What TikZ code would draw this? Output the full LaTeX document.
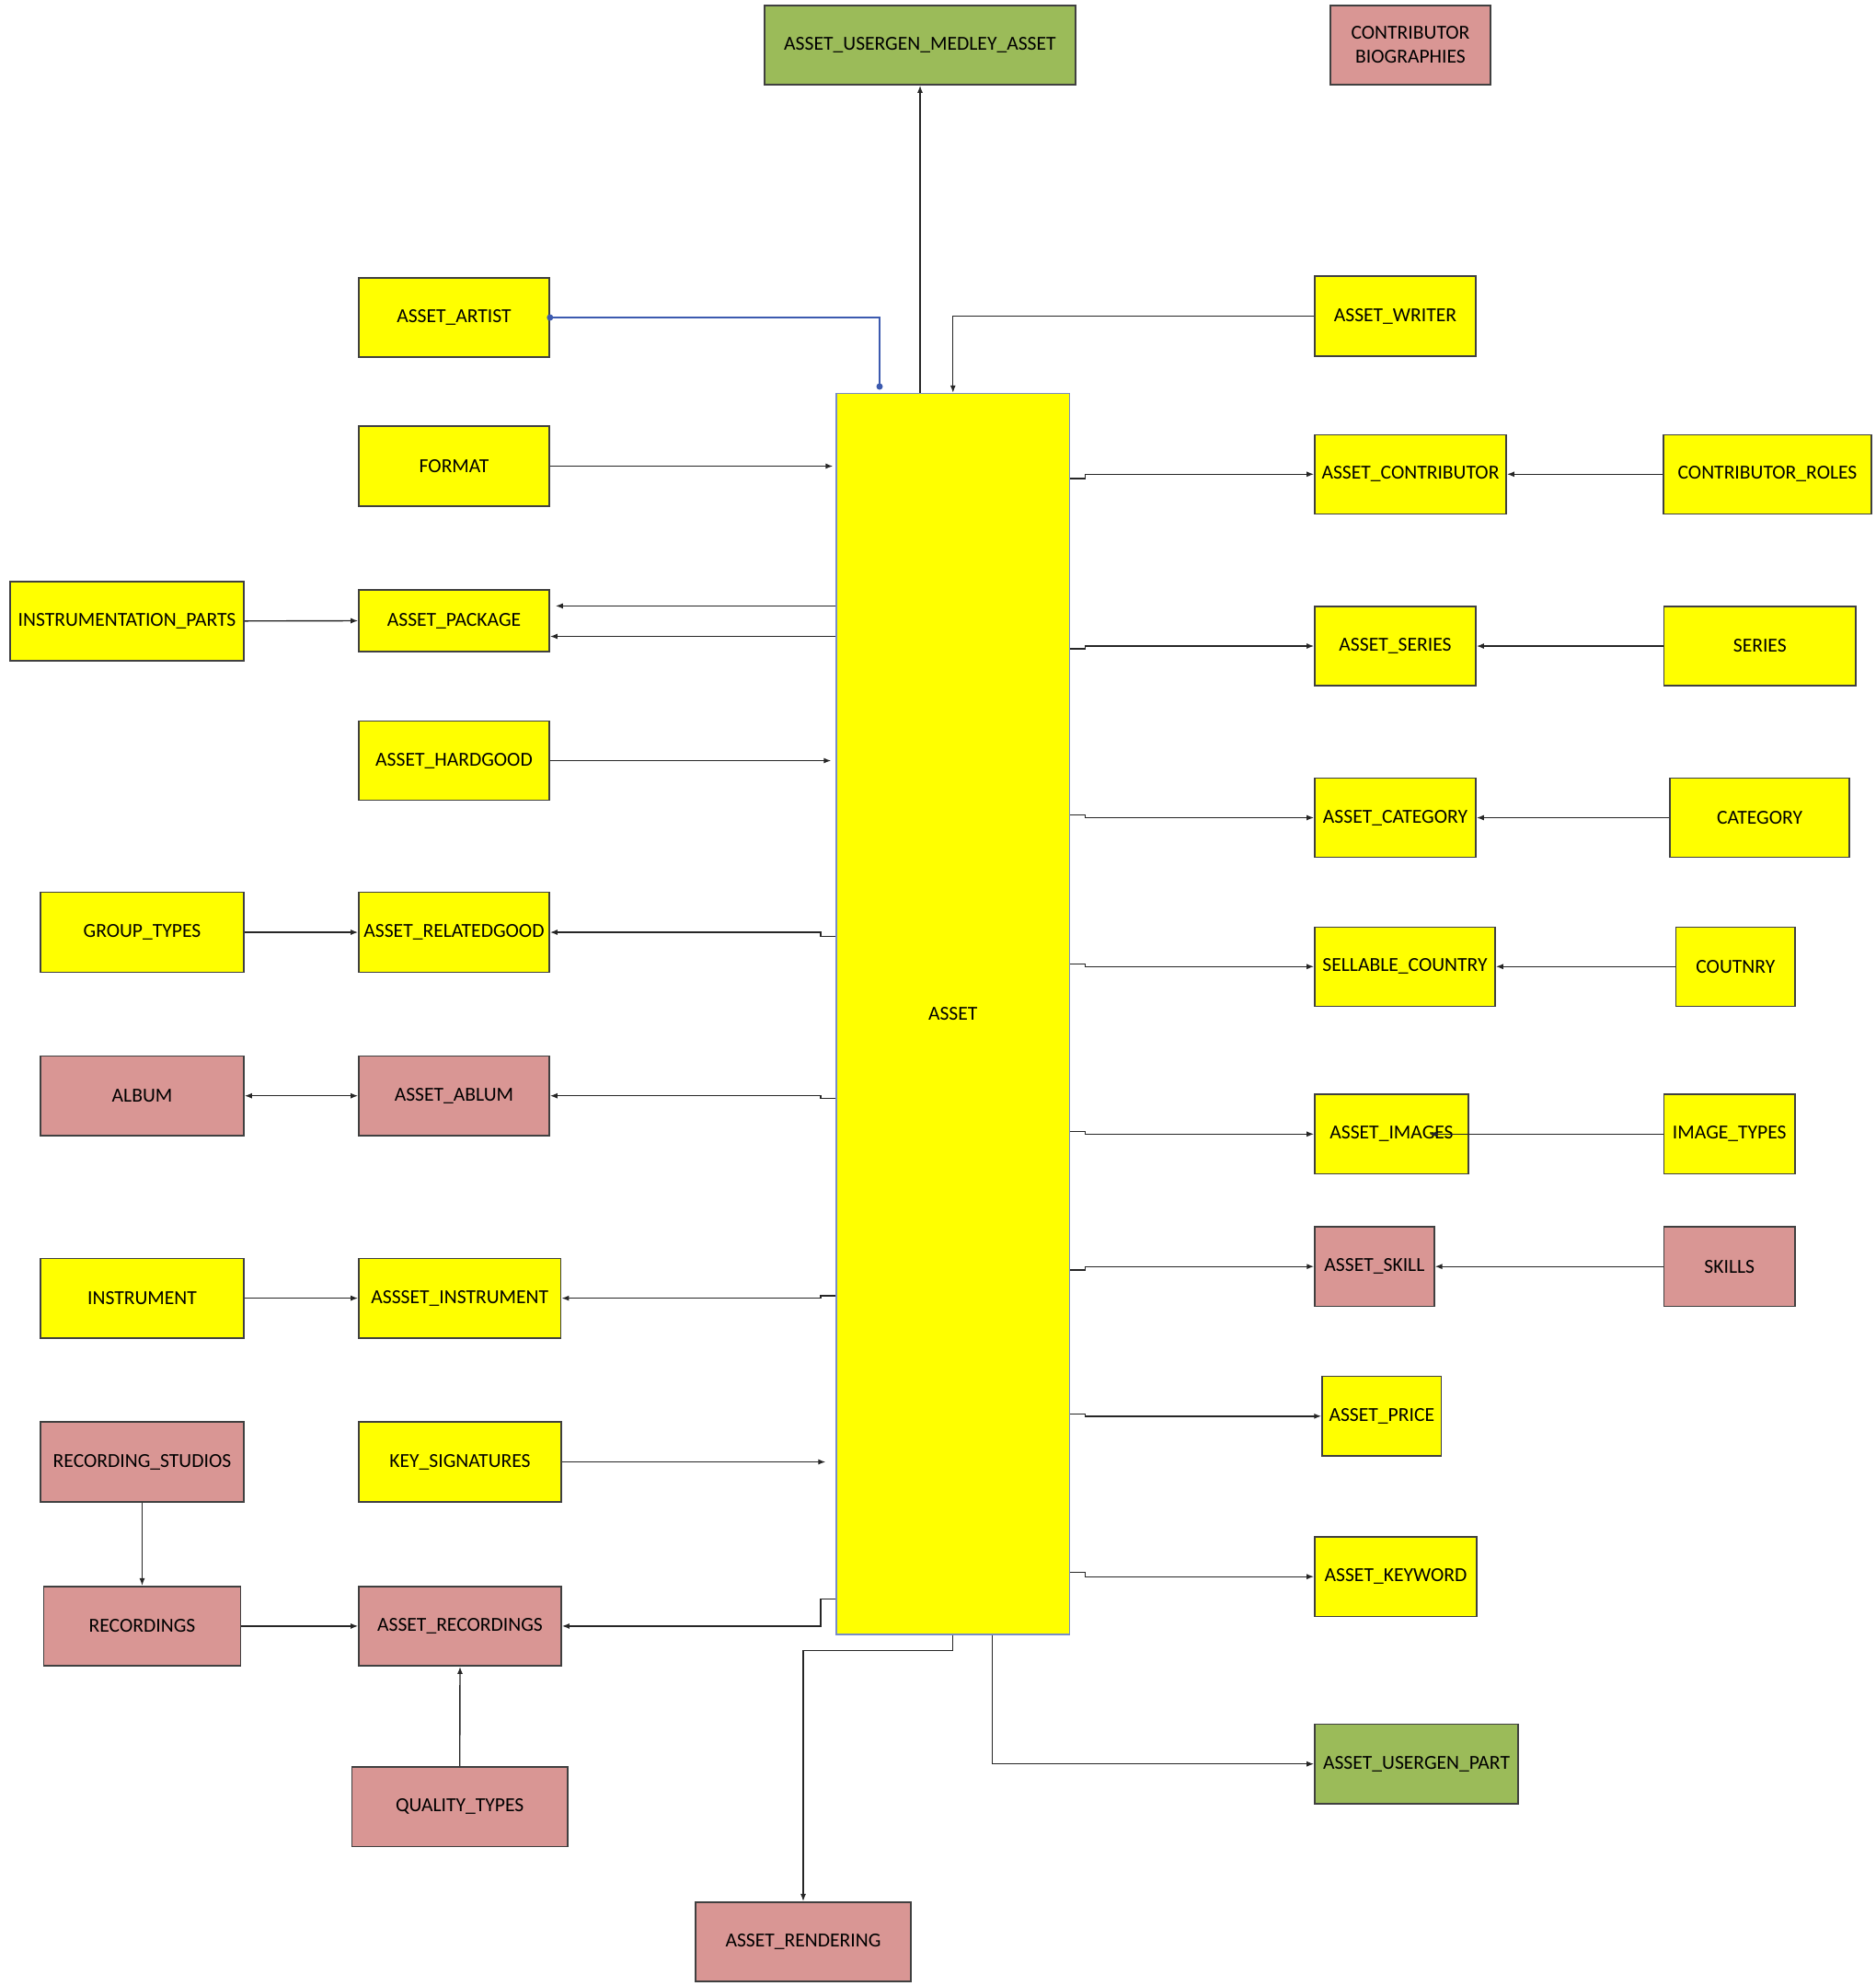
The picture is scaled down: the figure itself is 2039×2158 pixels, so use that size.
\documentclass[tikz,border=0pt]{standalone}
\usepackage{fontspec}
\setmainfont{Carlito}
\usetikzlibrary{arrows.meta}
\definecolor{ylw}{RGB}{255,255,0}
\definecolor{pnk}{RGB}{217,150,148}
\definecolor{grn}{RGB}{155,187,89}
\definecolor{edge}{RGB}{64,64,64}
\definecolor{assetedge}{RGB}{120,140,200}
\definecolor{bluelink}{RGB}{60,90,175}
\tikzset{
  ebox/.style={draw=edge,line width=0.8pt,inner sep=1pt,align=center,font=\fontsize{10.8pt}{13pt}\selectfont},
  yb/.style={ebox,fill=ylw},
  pb/.style={ebox,fill=pnk},
  gb/.style={ebox,fill=grn},
  conn/.style={draw=black!85,line width=0.7pt,-{Latex[length=4pt,width=3pt]}},
  connboth/.style={draw=black!85,line width=0.7pt,{Latex[length=4pt,width=3pt]}-{Latex[length=4pt,width=3pt]}},
  bluecon/.style={draw=bluelink,line width=1.1pt}
}
\newcommand\ebx[7]{\node[#6,minimum width=#4*0.5pt,minimum height=#5*0.5pt] (#1) at (#2,#3) {#7};}
\begin{document}
\begin{tikzpicture}[x=0.5pt,y=-0.5pt]
\useasboundingbox (0,0) rectangle (2039,2158);
% central
\node[draw=assetedge,line width=0.6pt,fill=ylw,inner sep=0pt,minimum width=253.5*0.5pt,minimum height=1348.5*0.5pt,font=\fontsize{10.8pt}{13pt}\selectfont] (asset) at (1035.75,1101.75) {ASSET};
% top
\ebx{medley}{1000}{49}{338}{86}{gb}{ASSET\_USERGEN\_MEDLEY\_ASSET}
\ebx{bio}{1533}{49}{174}{86}{pb}{CONTRIBUTOR\\BIOGRAPHIES}
% left column
\ebx{artist}{493.5}{345}{207}{86}{yb}{ASSET\_ARTIST}
\ebx{format}{493.5}{506.5}{207}{87}{yb}{FORMAT}
\ebx{instparts}{138}{674.8}{254}{86}{yb}{INSTRUMENTATION\_PARTS}
\ebx{package}{493.5}{674.5}{207}{67}{yb}{ASSET\_PACKAGE}
\ebx{hardgood}{493.5}{826.5}{207}{86}{yb}{ASSET\_HARDGOOD}
\ebx{grouptypes}{154.5}{1013}{221}{86.7}{yb}{GROUP\_TYPES}
\ebx{relatedgood}{493.5}{1013}{207}{86.7}{yb}{ASSET\_RELATEDGOOD}
\ebx{album}{154.5}{1190.7}{221}{86.5}{pb}{ALBUM}
\ebx{ablum}{493.5}{1190.7}{207}{86.5}{pb}{ASSET\_ABLUM}
\ebx{instrument}{154.5}{1410.6}{221}{86.4}{yb}{INSTRUMENT}
\ebx{assinstrument}{499.8}{1410.6}{219.6}{86.4}{yb}{ASSSET\_INSTRUMENT}
\ebx{studios}{154.5}{1588.5}{221}{87}{pb}{RECORDING\_STUDIOS}
\ebx{keysig}{500}{1588.5}{220}{87}{yb}{KEY\_SIGNATURES}
\ebx{recordings}{154.5}{1766.9}{214}{86.3}{pb}{RECORDINGS}
\ebx{assrecordings}{500}{1766.9}{220}{86.3}{pb}{ASSET\_RECORDINGS}
\ebx{quality}{499.7}{1963.3}{234.2}{86.6}{pb}{QUALITY\_TYPES}
\ebx{rendering}{873}{2109.9}{234}{86.3}{pb}{ASSET\_RENDERING}
% right column
\ebx{writer}{1516.5}{343.5}{175}{87}{yb}{ASSET\_WRITER}
\ebx{contributor}{1533}{515.3}{208}{86}{yb}{ASSET\_CONTRIBUTOR}
\ebx{roles}{1921}{515.3}{225.5}{86}{yb}{CONTRIBUTOR\_ROLES}
\ebx{assseries}{1516.5}{702}{175}{86}{yb}{ASSET\_SERIES}
\ebx{series}{1912.8}{702}{208.5}{86}{yb}{SERIES}
\ebx{asscategory}{1516.5}{888.5}{175}{86}{yb}{ASSET\_CATEGORY}
\ebx{category}{1912.5}{888.5}{195}{86}{yb}{CATEGORY}
\ebx{sellable}{1527}{1050.3}{196}{86}{yb}{SELLABLE\_COUNTRY}
\ebx{coutnry}{1886.3}{1050.3}{129.4}{86}{yb}{COUTNRY}
\ebx{images}{1512.5}{1232.3}{167}{86.6}{yb}{ASSET\_IMAGES}
\ebx{imagetypes}{1879.8}{1232.3}{142.5}{86.6}{yb}{IMAGE\_TYPES}
\ebx{skill}{1493.9}{1376.2}{129.7}{86.3}{pb}{ASSET\_SKILL}
\ebx{skills}{1879.8}{1376.2}{142.5}{86.3}{pb}{SKILLS}
\ebx{price}{1501.8}{1538.8}{129.5}{86.4}{yb}{ASSET\_PRICE}
\ebx{keyword}{1517}{1713.2}{176}{86.3}{yb}{ASSET\_KEYWORD}
\ebx{usergenpart}{1539.5}{1916.7}{221}{86.6}{gb}{ASSET\_USERGEN\_PART}
% coordinates
\coordinate (artistEnd) at (956,420);
\coordinate (imgTip) at (1553.5,1232.3);
% connectors top
\draw[bluecon] (artist.east) -| (artistEnd);
\fill[bluelink] (artist.east) circle (3.5);
\fill[bluelink] (artistEnd) circle (3.5);
\draw[conn] (writer.west) -| (asset.north);
\draw[conn] (medley.south |- asset.north) -- (medley.south);
% left side
\draw[conn,shorten >=1.5pt] (format.east) -- (format.east -| asset.west);
\draw[conn,shorten >=3pt] (asset.west |- 0,658.4) -- (package.east |- 0,658.4);
\draw[conn] (asset.west |- 0,691.5) -- (package.east |- 0,691.5);
\draw[conn] (instparts.east) -- (package.west);
\draw[conn,shorten >=2.5pt] (hardgood.east) -- (hardgood.east -| asset.west);
\draw[conn] (grouptypes.east) -- (relatedgood.west);
\draw[conn] (asset.west |- 0,1017.5) -- ++(-16.4,0) |- (relatedgood.east);
\draw[connboth] (album.east) -- (ablum.west);
\draw[conn] (asset.west |- 0,1193.4) -- ++(-16.4,0) |- (ablum.east);
\draw[conn] (instrument.east) -- (assinstrument.west);
\draw[conn] (asset.west |- 0,1407.8) -- ++(-16.4,0) |- (assinstrument.east);
\draw[conn,shorten >=5.5pt] (keysig.east) -- (keysig.east -| asset.west);
\draw[conn] (studios.south) -- (recordings.north);
\draw[conn] (recordings.east) -- (assrecordings.west);
\draw[conn] (asset.west |- 0,1737.5) -- ++(-16.4,0) |- (assrecordings.east);
\draw[conn] (quality.north) -- (assrecordings.south);
% bottom
\draw[conn] (asset.south) -- ++(0,16.6) -| (rendering.north);
\draw[conn] (1078.6,0 |- asset.south) |- (usergenpart.west);
% right side
\draw[conn] (asset.east |- 0,520) -- ++(16.5,0) |- (contributor.west);
\draw[conn] (asset.east |- 0,704.8) -- ++(16.5,0) |- (assseries.west);
\draw[conn] (asset.east |- 0,885.3) -- ++(16.5,0) |- (asscategory.west);
\draw[conn] (asset.east |- 0,1047.4) -- ++(16.5,0) |- (sellable.west);
\draw[conn] (asset.east |- 0,1229.6) -- ++(16.5,0) |- (images.west);
\draw[conn] (asset.east |- 0,1379.8) -- ++(16.5,0) |- (skill.west);
\draw[conn] (asset.east |- 0,1536.4) -- ++(16.5,0) |- (price.west);
\draw[conn] (asset.east |- 0,1708.6) -- ++(16.5,0) |- (keyword.west);
\draw[conn] (roles.west) -- (contributor.east);
\draw[conn] (series.west) -- (assseries.east);
\draw[conn] (category.west) -- (asscategory.east);
\draw[conn] (coutnry.west) -- (sellable.east);
\draw[conn] (imagetypes.west) -- (imgTip);
\draw[conn] (skills.west) -- (skill.east);
\end{tikzpicture}
\end{document}
